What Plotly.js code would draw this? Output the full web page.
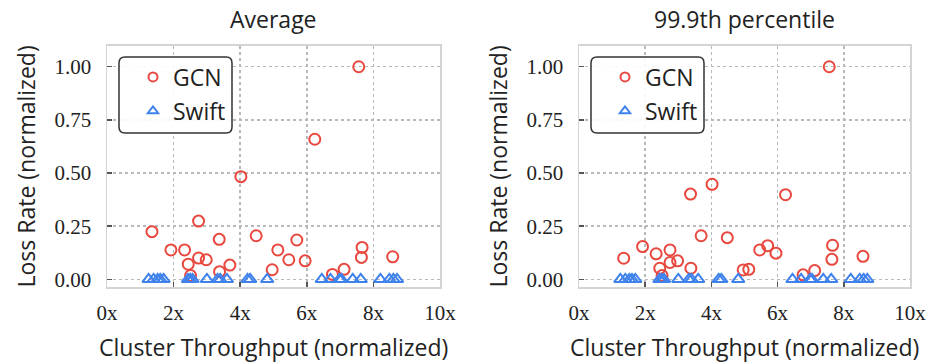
<!DOCTYPE html>
<html>
<head>
<meta charset="utf-8">
<script src="https://cdn.plot.ly/plotly-3.0.1.min.js"></script>
<style>html,body{margin:0;padding:0;background:#fff;}#chart{width:928px;height:363px;}</style>
</head>
<body>
<div id="chart"></div>
<script>
// GCN throughput (normalized) per experiment
const gcnThroughput = [1.35, 1.92, 2.33, 2.44, 2.51, 2.75, 2.75, 2.98, 3.37, 3.38, 3.69, 4.02, 4.48, 4.96, 5.13, 5.46, 5.70, 5.95, 6.24, 6.77, 7.12, 7.56, 7.66, 7.64, 8.58];
// GCN loss rate, average
const gcnLossAvg = [0.224, 0.138, 0.138, 0.071, 0.018, 0.274, 0.100, 0.092, 0.188, 0.036, 0.067, 0.483, 0.205, 0.045, 0.138, 0.092, 0.185, 0.087, 0.659, 0.023, 0.047, 1.000, 0.150, 0.103, 0.106];
// GCN loss rate, 99.9th percentile
const gcnLossP999 = [0.099, 0.154, 0.120, 0.052, 0.018, 0.138, 0.079, 0.087, 0.401, 0.052, 0.205, 0.447, 0.196, 0.044, 0.047, 0.138, 0.158, 0.123, 0.398, 0.021, 0.041, 1.000, 0.160, 0.094, 0.108];
// Swift throughput (normalized) per experiment
const swiftThroughput = [1.25, 1.40, 1.52, 1.60, 1.70, 2.43, 2.50, 2.57, 3.00, 3.32, 3.40, 3.60, 4.22, 4.30, 4.81, 6.45, 6.71, 6.98, 7.04, 7.38, 7.62, 8.21, 8.48, 8.60, 8.71];
// Swift loss rate (both metrics)
const swiftLossAvg = [0,0,0,0,0,0,0,0,0,0,0,0,0,0,0,0,0,0,0,0,0,0,0,0,0];
const swiftLossP999 = [0,0,0,0,0,0,0,0,0,0,0,0,0,0,0,0,0,0,0,0,0,0,0,0,0];
const panelTitles = ["Average", "99.9th percentile"];
const seriesNames = ["GCN", "Swift"];
const xTickVals = [0, 2, 4, 6, 8, 10];
const xTickText = ["0x", "2x", "4x", "6x", "8x", "10x"];
const yTickVals = [0, 0.25, 0.5, 0.75, 1.0];
const yTickText = ["0.00", "0.25", "0.50", "0.75", "1.00"];

const W = 928, H = 363;
const RED = '#e8483e', BLUE = '#3f82ec';
const SERIF = '"Liberation Serif", "DejaVu Serif", serif';
const SANS = '"Open Sans", "Noto Sans", sans-serif';
const FS = 23;
const px = v => v / W, py = v => 1 - v / H;

const panels = [
  {xa: 'x', ya: 'y', gl: gcnLossAvg, sl: swiftLossAvg, left: 107, right: 440},
  {xa: 'x2', ya: 'y2', gl: gcnLossP999, sl: swiftLossP999, left: 579, right: 910}
];

const data = [];
const annotations = [];
const shapes = [];
const layout = {
  width: W, height: H,
  margin: {l: 0, r: 0, t: 0, b: 0},
  paper_bgcolor: '#fff', plot_bgcolor: '#fff',
  showlegend: true,
  font: {family: SANS, color: '#222'},
  annotations: annotations, shapes: shapes
};

let legendIdx = 1;
panels.forEach((p, i) => {
  const sfx = i === 0 ? '' : String(i + 1);
  const axCommon = {
    showline: true, mirror: true, linecolor: '#d4d4d4', linewidth: 1.5,
    showgrid: true, gridcolor: '#b8b8b8', griddash: 'dot', gridwidth: 1.5,
    zeroline: false, ticks: 'inside', ticklen: 5, tickwidth: 1.5, tickcolor: '#555',
    tickfont: {family: SERIF, size: 21, color: '#222'}, automargin: false, fixedrange: true
  };
  layout['xaxis' + sfx] = Object.assign({}, axCommon, {
    domain: [px(p.left), px(p.right)], anchor: p.ya, range: [0, 10],
    tickmode: 'array', tickvals: xTickVals, ticktext: xTickText, ticklabelstandoff: 6
  });
  layout['yaxis' + sfx] = Object.assign({}, axCommon, {
    domain: [py(287.3), py(45.7)], anchor: p.xa, range: [-0.0376, 1.099],
    tickmode: 'array', tickvals: yTickVals, ticktext: yTickText, ticklabelstandoff: 10
  });
  data.push({
    type: 'scatter', mode: 'markers', x: gcnThroughput, y: p.gl, xaxis: p.xa, yaxis: p.ya,
    name: seriesNames[0], showlegend: false, cliponaxis: false,
    marker: {symbol: 'circle-open', size: 11, color: RED, line: {width: 2, color: RED}}
  });
  data.push({
    type: 'scatter', mode: 'markers', x: swiftThroughput, y: p.sl, xaxis: p.xa, yaxis: p.ya,
    name: seriesNames[1], showlegend: false, cliponaxis: false,
    marker: {symbol: 'triangle-up-open', size: 11, color: BLUE, line: {width: 2, color: BLUE}}
  });
  // legend entries (smaller symbols like the reference)
  const off = p.left - 107;
  [[seriesNames[0], 'circle-open', RED, 77], [seriesNames[1], 'triangle-up-open', BLUE, 111]].forEach(e => {
    const lname = legendIdx === 1 ? 'legend' : 'legend' + legendIdx;
    data.push({
      type: 'scatter', mode: 'markers', x: [null], y: [null], xaxis: p.xa, yaxis: p.ya,
      name: e[0], legend: lname, showlegend: true,
      marker: {symbol: e[1], size: 9, color: e[2], line: {width: 2, color: e[2]}}
    });
    layout[lname] = {
      x: px(133 + off), y: py(e[3]), xanchor: 'left', yanchor: 'middle',
      bgcolor: 'rgba(0,0,0,0)', borderwidth: 0,
      font: {family: SANS, size: FS, color: '#222'}
    };
    legendIdx++;
  });
  // rounded legend frame
  const x0 = 119 + off, x1 = 232 + off, y0 = 57, y1 = 133, r = 6;
  const path = `M ${px(x0 + r)} ${py(y0)} L ${px(x1 - r)} ${py(y0)} Q ${px(x1)} ${py(y0)} ${px(x1)} ${py(y0 + r)} ` +
    `L ${px(x1)} ${py(y1 - r)} Q ${px(x1)} ${py(y1)} ${px(x1 - r)} ${py(y1)} L ${px(x0 + r)} ${py(y1)} ` +
    `Q ${px(x0)} ${py(y1)} ${px(x0)} ${py(y1 - r)} L ${px(x0)} ${py(y0 + r)} Q ${px(x0)} ${py(y0)} ${px(x0 + r)} ${py(y0)} Z`;
  shapes.push({type: 'path', xref: 'paper', yref: 'paper', path: path,
    line: {color: '#333', width: 1.5}, fillcolor: 'rgba(255,255,255,0.9)', layer: 'above'});
  // panel title
  const cx = (p.left + p.right) / 2;
  annotations.push({text: panelTitles[i], xref: 'paper', yref: 'paper', x: px(cx), y: py(19),
    xanchor: 'center', yanchor: 'middle', showarrow: false, font: {family: SANS, size: FS, color: '#222'}});
  // axis titles
  annotations.push({text: 'Cluster Throughput (normalized)', xref: 'paper', yref: 'paper', x: px(cx), y: py(347),
    xanchor: 'center', yanchor: 'middle', showarrow: false, font: {family: SANS, size: FS, color: '#222'}});
  annotations.push({text: 'Loss Rate (normalized)', xref: 'paper', yref: 'paper', x: px(p.left - 82), y: py(166.5),
    xanchor: 'center', yanchor: 'middle', textangle: -90, showarrow: false, font: {family: SANS, size: FS, color: '#222'}});
});

Plotly.newPlot('chart', data, layout, {staticPlot: true, displayModeBar: false});
</script>
</body>
</html>
